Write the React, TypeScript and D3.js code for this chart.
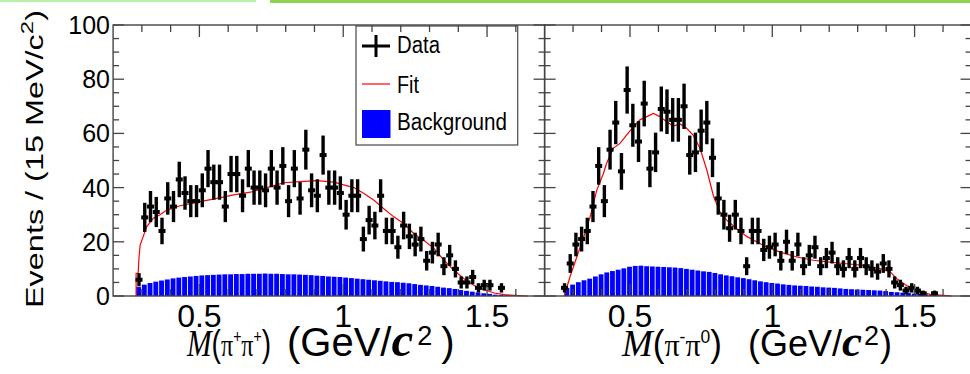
import React, { useEffect, useRef } from 'react';
import * as d3 from 'd3';

const binWidth = 0.02;
const xDomain = [0.2, 1.7];
const yDomain = [0, 100];
const yTickLabels = [0, 20, 40, 60, 80, 100];
const xTickLabels = [0.5, 1, 1.5];
const legendItems = ['Data', 'Fit', 'Background'];

// M(pi+ pi+) panel
const ppDataStart = 0.29;
const ppData = [6, 29, 33, 31, 24, 36, 33, 43, 38, 35, 35, 39, 47, 42, 42, 33, 45, 45, 37, 47,
  40, 40, 39, 47, 40, 48, 35, 47, 36, 54, 39, 37, 52, 40, 40, 38, 30, 37, 37, 21,
  28, 26, 37, 24, 24, 18, 26, 22, 19, 21, 13, 16, 19, 11, 15, 10, 5, 5, 7, 3,
  4, 4, 0, 3];
const ppFitX = [0.28, 0.28, 0.287, 0.29, 0.294, 0.317, 0.34, 0.363, 0.387, 0.433, 0.503, 0.561, 0.619,
  0.677, 0.735, 0.793, 0.851, 0.909, 0.967, 1.008, 1.037, 1.072, 1.107, 1.141, 1.176, 1.211,
  1.246, 1.281, 1.316, 1.35, 1.385, 1.42, 1.455, 1.49, 1.525, 1.56, 1.594, 1.641];
const ppFitY = [0, 8.4, 8.4, 14, 18.8, 25.6, 28.7, 30, 31.7, 33.3, 34.8, 36, 37.3,
  38.3, 40, 41.8, 42.2, 42.6, 42, 40.8, 40, 37.8, 35.3, 32.2, 29.2, 26.7,
  23, 20.5, 17.5, 13.2, 9.5, 6.4, 3.9, 2.3, 1.1, 0.5, 0.25, 0];
const ppBgStart = 0.28;
const ppBg = [3.3, 4.2, 4.8, 5.3, 5.7, 6.1, 6.5, 6.8, 7.0, 7.2, 7.4, 7.6, 7.7, 7.8, 7.9, 8.0, 8.0, 8.1,
  8.1, 8.2, 8.2, 8.2, 8.3, 8.2, 8.2, 8.1, 8.0, 8.0, 7.9, 7.8, 7.7, 7.5, 7.4, 7.2, 7.1, 7.0,
  6.8, 6.6, 6.4, 6.2, 6.0, 5.8, 5.6, 5.4, 5.2, 5.1, 4.9, 4.7, 4.4, 4.1, 3.9, 3.7, 3.4, 3.1,
  2.9, 2.6, 2.2, 1.9, 1.6, 1.3, 1.0, 0.8, 0.5, 0.4, 0.3, 0.2, 0.1];

// M(pi- pi0) panel
const pzDataStart = 0.27;
const pzData = [3, 12, 19, 21, 24, 33, 48, 35, 54, 64, 46, 76, 63, 57, 71, 47, 53, 69, 68, 65,
  65, 70, 52, 53, 61, 64, 51, 36, 30, 25, 30, 24, 11, 24, 24, 17, 18, 19, 13, 20,
  13, 19, 11, 15, 18, 11, 14, 16, 11, 10, 14, 10, 14, 11, 10, 9, 12, 10, 5, 4,
  2, 3, 2, 1, 0, 1];
const pzFitX = [0.269, 0.289, 0.313, 0.336, 0.36, 0.383, 0.406, 0.418, 0.441, 0.465, 0.488, 0.512,
  0.535, 0.559, 0.582, 0.605, 0.629, 0.652, 0.676, 0.699, 0.722, 0.746, 0.77, 0.793, 0.816,
  0.84, 0.875, 0.91, 0.968, 1.027, 1.086, 1.144, 1.203, 1.261, 1.32, 1.378, 1.414, 1.437,
  1.472, 1.507, 1.554, 1.601, 1.63];
const pzFitY = [0, 7, 14.4, 21.2, 29.2, 39, 45, 49, 54.5, 56.3, 59.4, 62.5,
  65, 66.2, 67.4, 66.2, 64.3, 62.7, 63.5, 61.9, 59.4, 54.5, 46.5, 37, 31,
  28, 24.8, 22, 18.7, 16.2, 14.4, 13.2, 12.5, 11.9, 11.3, 10.1, 8.9, 6.4,
  3.9, 2.1, 0.6, 0.25, 0];
const pzBgStart = 0.27;
const pzBg = [3.0, 4.2, 5.1, 5.8, 6.4, 7.2, 8.0, 8.7, 9.2, 9.7, 10.2, 10.8, 11.1, 11.2, 11.0, 10.9,
  10.8, 10.7, 10.6, 10.5, 10.3, 10.0, 9.7, 9.4, 9.1, 8.9, 8.5, 8.0, 7.6, 7.3, 6.9, 6.6, 6.2,
  5.8, 5.4, 5.1, 4.8, 4.6, 4.3, 4.1, 3.9, 3.8, 3.7, 3.5, 3.4, 3.2, 3.1, 3.0, 2.8, 2.6, 2.5,
  2.4, 2.3, 2.2, 2.1, 2.0, 1.8, 1.5, 1.4, 1.2, 1.1, 0.9, 0.8, 0.6, 0.5, 0.3, 0.2, 0.1];

const SANS = 'Liberation Sans, Arial, Helvetica, sans-serif';
const SERIF = 'Liberation Serif, Times New Roman, serif';

const App = () => {
  const ref = useRef<SVGSVGElement>(null);

  useEffect(() => {
    const svg = d3.select(ref.current);
    svg.selectAll('*').remove();

    const top = 25;
    const bottom = 296;
    const y = d3.scaleLinear().domain(yDomain).range([bottom, top]);

    // slide decoration at the top edge
    svg.append('rect').attr('x', 0).attr('y', 0).attr('width', 256).attr('height', 2).attr('fill', '#b8f2a8');
    svg.append('rect').attr('x', 270).attr('y', 0).attr('width', 700).attr('height', 3).attr('fill', '#92d050');

    const panels = [
      { left: 113.1, right: 544.6, data: ppData, dataStart: ppDataStart, fitX: ppFitX, fitY: ppFitY, bg: ppBg, bgStart: ppBgStart, first: true },
      { left: 544.6, right: 971.5, data: pzData, dataStart: pzDataStart, fitX: pzFitX, fitY: pzFitY, bg: pzBg, bgStart: pzBgStart, first: false },
    ];

    panels.forEach(p => {
      const x = d3.scaleLinear().domain(xDomain).range([p.left, p.right]);
      const bw = x(xDomain[0] + binWidth) - x(xDomain[0]);
      const g = svg.append('g');

      g.selectAll('rect.bg')
        .data(p.bg)
        .enter()
        .append('rect')
        .attr('x', (d, i) => x(p.bgStart + i * binWidth))
        .attr('y', d => y(d))
        .attr('width', bw - 0.9)
        .attr('height', d => y(0) - y(d))
        .attr('fill', '#0000ff');

      const line = d3.line<number>()
        .x((d, i) => x(p.fitX[i]))
        .y(d => y(d));
      g.append('path')
        .attr('d', line(p.fitY))
        .attr('fill', 'none')
        .attr('stroke', '#ff0000')
        .attr('stroke-width', 1.2);

      const pts = p.data
        .map((v, i) => ({ c: p.dataStart + i * binWidth, v }))
        .filter(d => d.v > 0);
      const pg = g.selectAll('g.pt').data(pts).enter().append('g');
      pg.append('line')
        .attr('x1', d => x(d.c)).attr('x2', d => x(d.c))
        .attr('y1', d => y(d.v - Math.sqrt(d.v))).attr('y2', d => y(d.v + Math.sqrt(d.v)))
        .attr('stroke', '#000').attr('stroke-width', 3.4);
      pg.append('rect')
        .attr('x', d => x(d.c) - 3.5).attr('y', d => y(d.v) - 2)
        .attr('width', 7).attr('height', 4)
        .attr('fill', '#000');

      if (p.first) {
        // legend
        const lg = svg.append('g');
        lg.append('rect')
          .attr('x', 356).attr('y', 26).attr('width', 161.7).attr('height', 119)
          .attr('fill', '#fff').attr('stroke', '#555').attr('stroke-width', 1.3);
        lg.append('line').attr('x1', 362).attr('x2', 390).attr('y1', 46).attr('y2', 46)
          .attr('stroke', '#000').attr('stroke-width', 3);
        lg.append('line').attr('x1', 376).attr('x2', 376).attr('y1', 35).attr('y2', 57)
          .attr('stroke', '#000').attr('stroke-width', 3);
        lg.append('line').attr('x1', 362).attr('x2', 390).attr('y1', 84).attr('y2', 84)
          .attr('stroke', '#ff0000').attr('stroke-width', 1.2);
        lg.append('rect').attr('x', 362).attr('y', 110).attr('width', 28.5).attr('height', 28)
          .attr('fill', '#0000ff');
        const lens = [43, 22, 110];
        const bases = [53.3, 93, 130];
        legendItems.forEach((t, i) => {
          lg.append('text')
            .attr('x', 397).attr('y', bases[i])
            .attr('textLength', lens[i]).attr('lengthAdjust', 'spacingAndGlyphs')
            .style('font-family', SANS).style('font-size', '23px')
            .text(t);
        });
      }

      // frame and ticks
      const ax = svg.append('g').attr('stroke', '#444').attr('fill', 'none');
      ax.append('rect')
        .attr('x', p.left).attr('y', top).attr('width', p.right - p.left).attr('height', bottom - top)
        .attr('stroke-width', 1.4);
      d3.range(0, 101, 5).forEach(v => {
        const len = v % 20 === 0 ? 11 : 6;
        ax.append('line').attr('x1', p.left).attr('x2', p.left + len).attr('y1', y(v)).attr('y2', y(v)).attr('stroke-width', 1.3);
        ax.append('line').attr('x1', p.right).attr('x2', p.right - len).attr('y1', y(v)).attr('y2', y(v)).attr('stroke-width', 1.3);
      });
      d3.range(3, 17).forEach(k => {
        const v = k / 10;
        const len = k % 5 === 0 ? 12 : 7;
        ax.append('line').attr('x1', x(v)).attr('x2', x(v)).attr('y1', top).attr('y2', top + len).attr('stroke-width', 1.3);
        ax.append('line').attr('x1', x(v)).attr('x2', x(v)).attr('y1', bottom).attr('y2', bottom - len).attr('stroke-width', 1.3);
      });

      svg.append('g').selectAll('text')
        .data(xTickLabels)
        .enter()
        .append('text')
        .attr('x', d => x(d))
        .attr('y', 327)
        .attr('text-anchor', 'middle')
        .style('font-family', SANS)
        .style('font-size', '32px')
        .text(d => String(d));

      if (p.first) {
        svg.append('g').selectAll('text')
          .data(yTickLabels)
          .enter()
          .append('text')
          .attr('x', 110)
          .attr('y', d => y(d) + 9)
          .attr('text-anchor', 'end')
          .style('font-family', SANS)
          .style('font-size', '25px')
          .text(d => String(d));
      }
    });

    // axis titles: mass symbol part and unit part
    const xTitle = (o: { x0: number; len0: number; x1: number; size: number; cSize: number; dx2: number; dxP: number; sup1: string; sup2: string }) => {
      const a = svg.append('text')
        .attr('x', o.x0).attr('y', 356)
        .attr('textLength', o.len0).attr('lengthAdjust', 'spacingAndGlyphs')
        .style('font-family', SANS).style('font-size', '36px');
      a.append('tspan').style('font-family', SERIF).style('font-style', 'italic').style('font-size', '38px').text('M');
      a.append('tspan').text('(');
      a.append('tspan').style('font-family', SERIF).style('font-size', '31px').text('π');
      a.append('tspan').attr('dy', -13).style('font-size', '18px').text(o.sup1);
      a.append('tspan').attr('dy', 13).style('font-family', SERIF).style('font-size', '31px').text('π');
      a.append('tspan').attr('dy', -13).style('font-size', '18px').text(o.sup2);
      a.append('tspan').attr('dy', 13).text(')');

      const b = svg.append('text')
        .attr('x', o.x1).attr('y', 356)
        .style('font-family', SANS).style('font-size', `${o.size}px`);
      b.append('tspan').text('(GeV/');
      b.append('tspan').style('font-family', SERIF).style('font-style', 'italic').style('font-weight', 'bold').style('font-size', `${o.cSize}px`).text('c');
      b.append('tspan').attr('dx', o.dx2).attr('dy', -11).style('font-size', '27px').text('2');
      b.append('tspan').attr('dx', o.dxP).attr('dy', 11).text(')');
    };
    xTitle({ x0: 187, len0: 84, x1: 287, size: 40, cSize: 49, dx2: 4, dxP: 9, sup1: '+', sup2: '+' });
    xTitle({ x0: 622, len0: 100, x1: 748, size: 36, cSize: 45, dx2: 2, dxP: 1, sup1: '-', sup2: '0' });

    const yt = svg.append('text')
      .attr('transform', 'translate(43,308) rotate(-90)')
      .attr('textLength', 298).attr('lengthAdjust', 'spacingAndGlyphs')
      .style('font-family', SANS).style('font-size', '23px');
    yt.append('tspan').text('Events / (15 MeV/c');
    yt.append('tspan').attr('dy', -10).style('font-size', '17px').text('2');
    yt.append('tspan').attr('dy', 10).text(')');
  }, []);

  return (
    <svg
      ref={ref}
      width={970}
      height={374}
      style={{ position: 'absolute', left: 0, top: 0, background: '#fff' }}
    />
  );
};

export default App;
